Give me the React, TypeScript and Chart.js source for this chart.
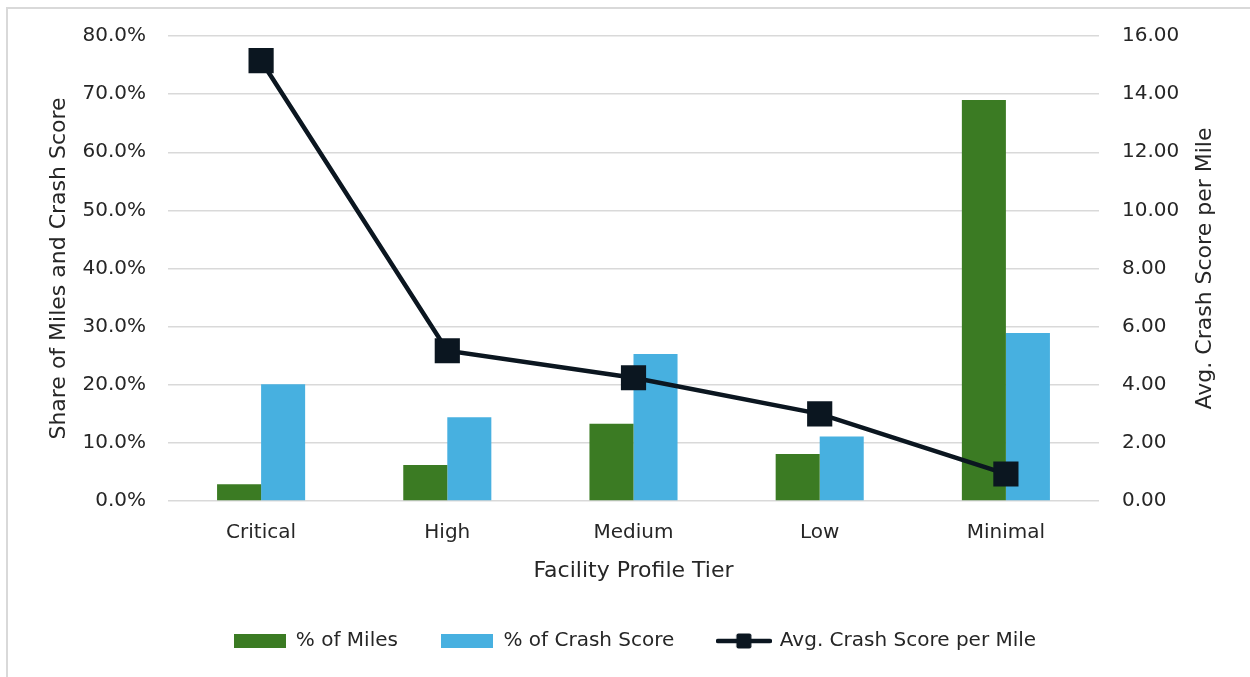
import React, { useEffect, useRef } from "react";
import { Chart, registerables } from "chart.js";

Chart.register(...registerables);

const categories = ["Critical", "High", "Medium", "Low", "Minimal"];
const pctMiles = [2.9, 6.2, 13.3, 8.1, 69.0];
const pctCrashScore = [20.1, 14.4, 25.3, 11.1, 28.9];
const avgCrashScorePerMile = [15.15, 5.17, 4.24, 3.0, 0.93];

const leftTicksMax = 80;
const leftStep = 10;
const rightTicksMax = 16;
const rightStep = 2;

const seriesNames = ["% of Miles", "% of Crash Score", "Avg. Crash Score per Mile"];

const GREEN = "#3b7b23";
const BLUE = "#47b0e0";
const NAVY = "#0b1620";
const TEXT = "#262626";
const GRID = "#d9d9d9";
const FONT = "'DejaVu Sans', sans-serif";

function makeBoxImage(color: string) {
  const c = document.createElement("canvas");
  c.width = 52;
  c.height = 14;
  const ctx = c.getContext("2d")!;
  ctx.fillStyle = color;
  ctx.fillRect(0, 0, 52, 14);
  return c;
}

function makeLineImage() {
  const c = document.createElement("canvas");
  c.width = 56;
  c.height = 16;
  const ctx = c.getContext("2d")!;
  ctx.strokeStyle = NAVY;
  ctx.lineWidth = 4.5;
  ctx.lineCap = "round";
  ctx.beginPath();
  ctx.moveTo(2, 8);
  ctx.lineTo(54, 8);
  ctx.stroke();
  ctx.fillStyle = NAVY;
  ctx.beginPath();
  if ((ctx as any).roundRect) {
    (ctx as any).roundRect(20.5, 0.5, 15, 15, 2);
  } else {
    ctx.rect(20.5, 0.5, 15, 15);
  }
  ctx.fill();
  return c;
}

const rightTitlePlugin = {
  id: "rightTitle",
  afterDraw(chart: any) {
    const { ctx, chartArea } = chart;
    ctx.save();
    ctx.fillStyle = TEXT;
    ctx.font = `22px ${FONT}`;
    ctx.textAlign = "center";
    ctx.textBaseline = "middle";
    ctx.translate(1205 - 9, (chartArea.top + chartArea.bottom) / 2);
    ctx.rotate(-Math.PI / 2);
    ctx.fillText(seriesNames[2], 0, 0);
    ctx.restore();
  },
};

export default function App() {
  const ref = useRef<HTMLCanvasElement | null>(null);

  useEffect(() => {
    if (!ref.current) return;
    const boxGreen = makeBoxImage(GREEN);
    const boxBlue = makeBoxImage(BLUE);
    const lineImg = makeLineImage();

    const chart = new Chart(ref.current, {
      type: "bar",
      data: {
        labels: categories,
        datasets: [
          {
            type: "bar",
            label: seriesNames[0],
            data: pctMiles,
            backgroundColor: GREEN,
            yAxisID: "y",
            order: 2,
            categoryPercentage: 0.473,
            barPercentage: 1,
          },
          {
            type: "bar",
            label: seriesNames[1],
            data: pctCrashScore,
            backgroundColor: BLUE,
            yAxisID: "y",
            order: 2,
            categoryPercentage: 0.473,
            barPercentage: 1,
          },
          {
            type: "line",
            label: seriesNames[2],
            data: avgCrashScorePerMile,
            borderColor: NAVY,
            backgroundColor: NAVY,
            borderWidth: 4.5,
            pointStyle: "rect",
            pointRadius: 17.8,
            pointBorderWidth: 0,
            pointBackgroundColor: NAVY,
            yAxisID: "y1",
            order: 0,
            tension: 0,
          } as any,
        ],
      },
      options: {
        animation: false,
        responsive: true,
        maintainAspectRatio: false,
        layout: { padding: { top: 27, bottom: 13, left: 14, right: 0 } },
        plugins: {
          tooltip: { enabled: false },
          legend: {
            display: true,
            position: "bottom",
            labels: {
              usePointStyle: true,
              pointStyleWidth: 52,
              boxHeight: 14,
              padding: 43.5,
              color: TEXT,
              font: { family: FONT, size: 20 },
              generateLabels: () => [
                { text: seriesNames[0], pointStyle: boxGreen as any, fillStyle: GREEN, strokeStyle: GREEN, lineWidth: 0, datasetIndex: 0, fontColor: TEXT } as any,
                { text: seriesNames[1], pointStyle: boxBlue as any, fillStyle: BLUE, strokeStyle: BLUE, lineWidth: 0, datasetIndex: 1, fontColor: TEXT } as any,
                { text: seriesNames[2], pointStyle: lineImg as any, fillStyle: NAVY, strokeStyle: NAVY, lineWidth: 0, datasetIndex: 2, fontColor: TEXT } as any,
              ],
            },
          },
        },
        scales: {
          x: {
            grid: { display: false },
            border: { display: false },
            ticks: { color: TEXT, font: { family: FONT, size: 20 }, padding: 12 },
            title: {
              display: true,
              text: "Facility Profile Tier",
              color: TEXT,
              font: { family: FONT, size: 22 },
              padding: { top: 0, bottom: 3 },
            },
            afterFit: (scale: any) => {
              scale.height = 86.5;
            },
          },
          y: {
            position: "left",
            min: 0,
            max: leftTicksMax,
            ticks: {
              stepSize: leftStep,
              color: TEXT,
              padding: 22,
              font: { family: FONT, size: 20 },
              callback: (v: any) => `${Number(v).toFixed(1)}%`,
            },
            grid: { color: GRID, lineWidth: 1.5, drawTicks: false },
            border: { display: false },
            title: {
              display: true,
              text: "Share of Miles and Crash Score",
              color: TEXT,
              font: { family: FONT, size: 22 },
              padding: { top: 23, bottom: 0 },
            },
            afterFit: (scale: any) => {
              scale.width = 145;
              scale.paddingTop = 0;
              scale.paddingBottom = 0;
            },
          },
          y1: {
            position: "right",
            min: 0,
            max: rightTicksMax,
            ticks: {
              stepSize: rightStep,
              color: TEXT,
              padding: 23,
              font: { family: FONT, size: 20 },
              callback: (v: any) => Number(v).toFixed(2),
            },
            grid: { display: false, drawTicks: false },
            border: { display: false },
            afterFit: (scale: any) => {
              scale.width = 148;
              scale.paddingTop = 0;
              scale.paddingBottom = 0;
            },
          },
        },
      },
      plugins: [rightTitlePlugin],
    });
    return () => chart.destroy();
  }, []);

  return (
    <div>
      <div
        style={{
          position: "absolute",
          left: 6,
          top: 7,
          width: 1260,
          height: 700,
          borderLeft: `2px solid ${GRID}`,
          borderTop: `2px solid ${GRID}`,
          boxSizing: "border-box",
        }}
      />
      <div style={{ position: "absolute", left: 9, top: 9, width: 1238, height: 665 }}>
        <canvas ref={ref} />
      </div>
    </div>
  );
}
